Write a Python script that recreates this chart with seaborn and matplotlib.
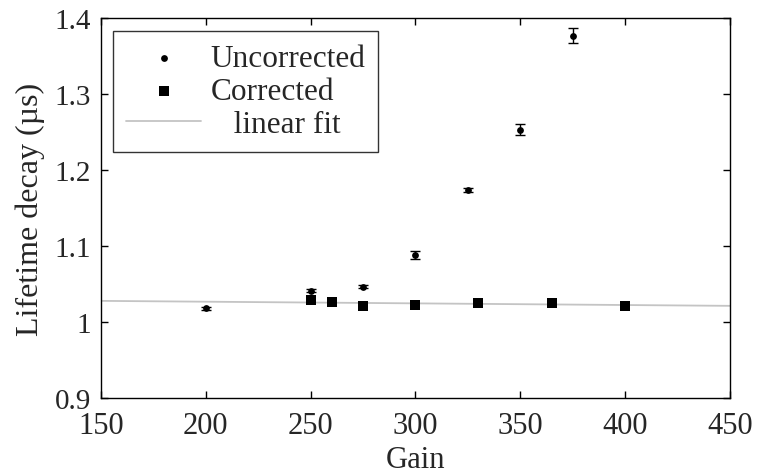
import numpy as np
import pandas as pd
import matplotlib
matplotlib.use("Agg")
import matplotlib.pyplot as plt
import seaborn as sns

# Lifetime decay measurements vs. gain
gain_uncorr = [200, 250, 275, 300, 325, 350, 375]
tau_uncorr = [1.018, 1.041, 1.0465, 1.088, 1.174, 1.253, 1.377]
err_uncorr = [0.002, 0.002, 0.002, 0.005, 0.003, 0.007, 0.0095]

gain_corr = [250, 260, 275, 300, 330, 365, 400]
tau_corr = [1.029, 1.026, 1.0207, 1.023, 1.0246, 1.0254, 1.0215]

x_ticks = [150, 200, 250, 300, 350, 400, 450]
y_ticks = [0.9, 1.0, 1.1, 1.2, 1.3, 1.4]
y_tick_labels = ["0.9", "1", "1.1", "1.2", "1.3", "1.4"]

sns.set_theme(style="ticks")
plt.rcParams["font.family"] = ["Liberation Serif", "DejaVu Serif"]
plt.rcParams["xtick.direction"] = "in"
plt.rcParams["ytick.direction"] = "in"

fig = plt.figure(figsize=(7.58, 4.77), dpi=100)
ax = fig.add_axes([0.1332, 0.1635, 0.8298, 0.7965])

df_u = pd.DataFrame({"gain": gain_uncorr, "tau": tau_uncorr, "err": err_uncorr})
df_c = pd.DataFrame({"gain": gain_corr, "tau": tau_corr})

# linear fit of the corrected values, drawn across the full gain range
coef = np.polyfit(df_c["gain"], df_c["tau"], 1)
fit_x = np.array([150, 450])
df_fit = pd.DataFrame({"gain": fit_x, "tau": np.polyval(coef, fit_x)})

sns.lineplot(data=df_fit, x="gain", y="tau", ax=ax, color="#c4c4c4",
             linewidth=1.3, label="   linear fit", zorder=1)
ax.errorbar(df_u["gain"], df_u["tau"], yerr=df_u["err"], fmt="none",
            ecolor="black", elinewidth=1.0, capsize=3.5, capthick=1.0, zorder=2)
sns.scatterplot(data=df_u, x="gain", y="tau", ax=ax, marker="o", s=24,
                color="black", edgecolor="black", linewidth=0,
                label="Uncorrected", zorder=3)
sns.scatterplot(data=df_c, x="gain", y="tau", ax=ax, marker="s", s=45,
                color="black", edgecolor="black", linewidth=0,
                label="Corrected", zorder=3)

ax.set_xlim(150, 450)
ax.set_ylim(0.9, 1.4)
ax.set_xticks(x_ticks)
ax.set_yticks(y_ticks)
ax.set_yticklabels(y_tick_labels)
ax.tick_params(axis="both", which="both", length=5, width=1,
               top=True, right=True, color="black")
ax.tick_params(axis="x", labelsize=22, pad=9)
ax.tick_params(axis="y", labelsize=21, pad=7)
for sp in ax.spines.values():
    sp.set_linewidth(1.0)
    sp.set_color("black")
ax.set_xlabel("Gain", fontsize=22, labelpad=4)
ax.set_ylabel("Lifetime decay (\u00b5s)", fontsize=23, labelpad=7)

handles, labels = ax.get_legend_handles_labels()
wanted = ["Uncorrected", "Corrected", "   linear fit"]
order = [labels.index(n) for n in wanted]
leg = ax.legend([handles[i] for i in order], [labels[i] for i in order],
                loc="upper left", bbox_to_anchor=(0.019, 0.966), fontsize=22.5,
                frameon=True, fancybox=False, edgecolor="black",
                handlelength=2.4, handletextpad=0.3, borderpad=0.42,
                labelspacing=0.12, borderaxespad=0)
leg.get_frame().set_linewidth(1.0)

fig.savefig("out.png", dpi=100)
